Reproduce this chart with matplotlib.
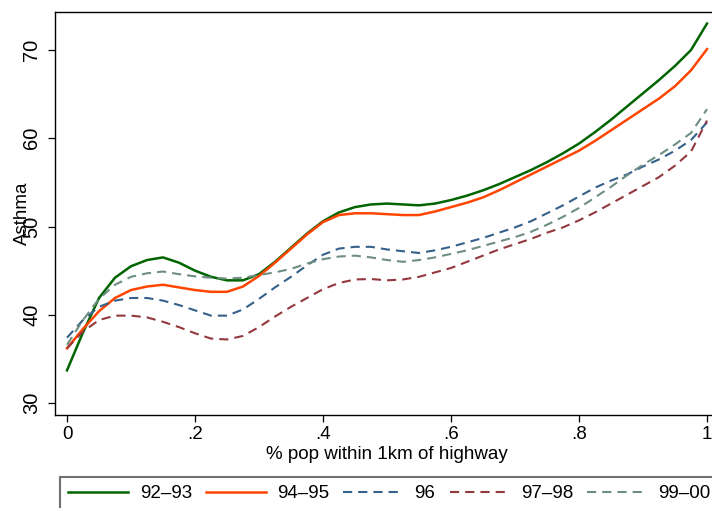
import numpy as np
import matplotlib
matplotlib.use("Agg")
import matplotlib.pyplot as plt

plt.rcParams['font.family'] = ['Liberation Sans', 'DejaVu Sans']

# share of population within 1km of a highway (sampling grid of the smoothed curves)
pop_share = np.linspace(0, 1, 41)

asthma_92_93 = [33.7, 38.0, 41.9, 44.2, 45.5, 46.2, 46.5, 45.9, 45.0, 44.3,
                43.9, 43.9, 44.6, 46.0, 47.6, 49.2, 50.6, 51.6, 52.2, 52.5,
                52.6, 52.5, 52.4, 52.6, 53.0, 53.5, 54.1, 54.8, 55.6, 56.4,
                57.3, 58.3, 59.4, 60.7, 62.1, 63.6, 65.1, 66.6, 68.2, 70.0, 73.0]
asthma_94_95 = [36.2, 38.4, 40.4, 41.9, 42.8, 43.2, 43.4, 43.1, 42.8, 42.6,
                42.6, 43.2, 44.4, 45.9, 47.5, 49.1, 50.5, 51.3, 51.5, 51.5,
                51.4, 51.3, 51.3, 51.7, 52.2, 52.7, 53.3, 54.1, 55.0, 55.9,
                56.8, 57.7, 58.6, 59.7, 60.9, 62.1, 63.3, 64.5, 65.9, 67.7, 70.1]
asthma_96 = [37.4, 39.4, 40.9, 41.6, 41.9, 41.9, 41.6, 41.1, 40.5, 39.9,
             39.9, 40.6, 41.8, 43.1, 44.3, 45.6, 46.8, 47.5, 47.7, 47.7,
             47.4, 47.2, 47.0, 47.3, 47.7, 48.2, 48.7, 49.3, 49.9, 50.6,
             51.5, 52.4, 53.4, 54.4, 55.2, 55.9, 56.8, 57.6, 58.6, 59.8, 61.8]
asthma_97_98 = [36.2, 38.1, 39.4, 39.9, 39.9, 39.7, 39.2, 38.6, 37.9, 37.3,
                37.2, 37.6, 38.6, 39.8, 40.9, 41.9, 42.9, 43.6, 44.0, 44.05,
                43.9, 44.0, 44.3, 44.8, 45.3, 46.0, 46.7, 47.4, 48.0, 48.6,
                49.3, 49.9, 50.7, 51.6, 52.6, 53.6, 54.6, 55.6, 56.9, 58.5, 62.0]
asthma_99_00 = [36.6, 39.4, 41.8, 43.4, 44.3, 44.7, 44.9, 44.6, 44.35, 44.2,
                44.1, 44.2, 44.5, 44.8, 45.2, 45.8, 46.3, 46.6, 46.7, 46.5,
                46.2, 46.0, 46.2, 46.5, 46.9, 47.3, 47.8, 48.3, 48.8, 49.4,
                50.2, 51.1, 52.1, 53.3, 54.5, 55.8, 57.0, 58.1, 59.3, 60.6, 63.3]

labels = ['92\u201393', '94\u201395', '96', '97\u201398', '99\u201300']
x_ticks = [0, 0.2, 0.4, 0.6, 0.8, 1.0]
x_ticklabels = ['0', '.2', '.4', '.6', '.8', '1']
y_ticks = [30, 40, 50, 60, 70]

fig = plt.figure(figsize=(7.12, 5.08), dpi=100)
ax = fig.add_axes([0.07725, 0.18307, 0.93258, 0.79331])

dash = (4.4, 2.9)
ax.plot(pop_share, asthma_92_93, color='#006400', lw=1.8, label=labels[0])
ax.plot(pop_share, asthma_94_95, color='#ff4500', lw=1.8, label=labels[1])
ax.plot(pop_share, asthma_96, color='#35608a', lw=1.5, dashes=dash, label=labels[2])
ax.plot(pop_share, asthma_97_98, color='#93383f', lw=1.5, dashes=dash, label=labels[3])
ax.plot(pop_share, asthma_99_00, color='#6e8e84', lw=1.5, dashes=dash, label=labels[4])

ax.set_xlim(-0.01875, 1.01875)
ax.set_ylim(28.64, 74.31)
ax.set_xticks(x_ticks)
ax.set_xticklabels(x_ticklabels)
ax.set_yticks(y_ticks)
ax.tick_params(axis='both', direction='out', length=5, width=0.9, color='black')
ax.tick_params(axis='x', pad=3, labelsize=13.5)
ax.tick_params(axis='y', pad=5, labelsize=14.5)
for lab in ax.get_yticklabels():
    lab.set_rotation(90)
    lab.set_va('center')

for sp in ax.spines.values():
    sp.set_linewidth(1.0)
    sp.set_color('black')

ax.set_xlabel('% pop within 1km of highway', fontsize=13.5)
ax.xaxis.label.set_va('center')
ax.xaxis.set_label_coords(0.5, -0.099)
ax.set_ylabel('Asthma', fontsize=13.5)
ax.yaxis.set_label_coords(-0.036, 0.5)

leg = fig.legend(loc='upper left', bbox_to_anchor=(60 / 712, 1 - 476.7 / 508),
                 ncol=5, fontsize=13.5, frameon=True, fancybox=False,
                 handlelength=3.2, handletextpad=0.6, columnspacing=0.75,
                 borderpad=0.45, borderaxespad=0)
leg.get_frame().set_edgecolor('#707070')
leg.get_frame().set_linewidth(1.5)
leg.get_frame().set_alpha(1)

fig.savefig('out.png', dpi=100)
